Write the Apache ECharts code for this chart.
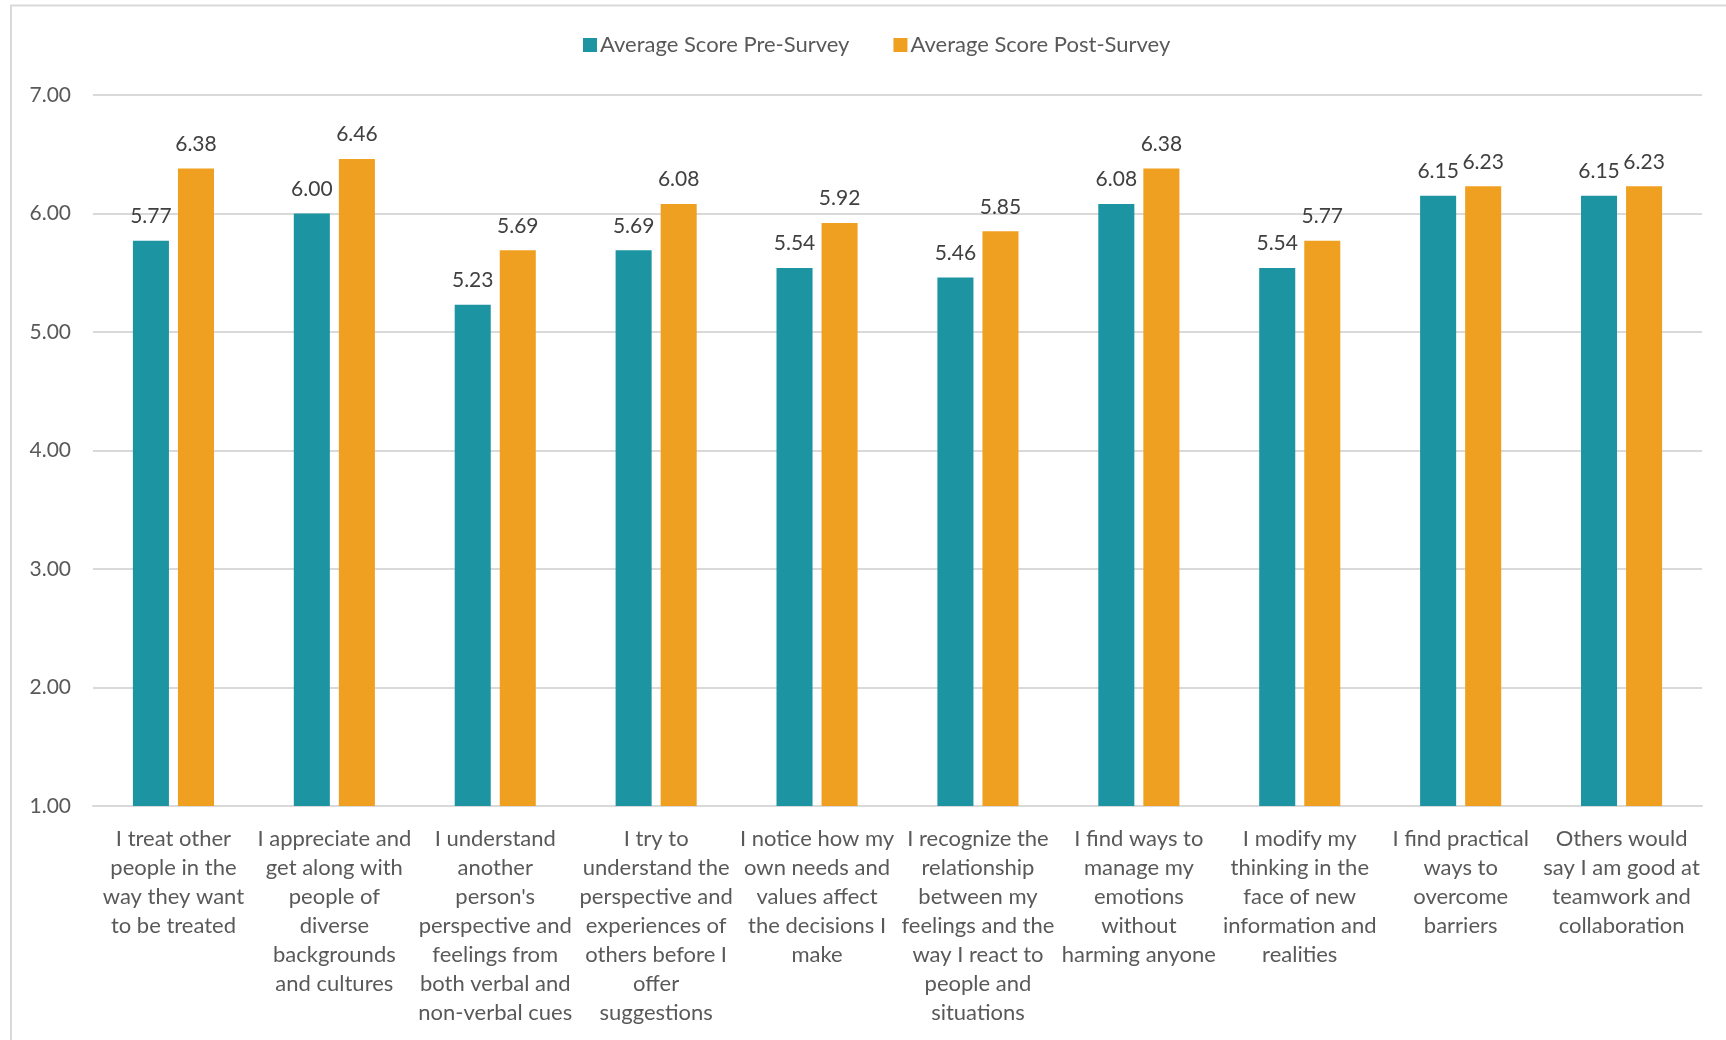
<!DOCTYPE html>
<html>
<head>
<meta charset="utf-8">
<title>Average Score Pre- and Post-Survey</title>
<script src="https://cdn.jsdelivr.net/npm/echarts@6/dist/echarts.min.js"></script>
<style>
  html, body { margin: 0; padding: 0; background: #ffffff; }
  #chart { width: 1726px; height: 1040px; }
</style>
</head>
<body>
<div id="chart"></div>
<script>
// Survey statements (x-axis categories, wrapped by hand)
const categories = [
  "I treat other\npeople in the\nway they want\nto be treated",
  "I appreciate and\nget along with\npeople of\ndiverse\nbackgrounds\nand cultures",
  "I understand\nanother\nperson's\nperspective and\nfeelings from\nboth verbal and\nnon-verbal cues",
  "I try to\nunderstand the\nperspective and\nexperiences of\nothers before I\noffer\nsuggestions",
  "I notice how my\nown needs and\nvalues affect\nthe decisions I\nmake",
  "I recognize the\nrelationship\nbetween my\nfeelings and the\nway I react to\npeople and\nsituations",
  "I find ways to\nmanage my\nemotions\nwithout\nharming anyone",
  "I modify my\nthinking in the\nface of new\ninformation and\nrealities",
  "I find practical\nways to\novercome\nbarriers",
  "Others would\nsay I am good at\nteamwork and\ncollaboration"
];

const seriesNames = ["Average Score Pre-Survey", "Average Score Post-Survey"];

// Average scores per statement
const preSurvey  = [5.77, 6.00, 5.23, 5.69, 5.54, 5.46, 6.08, 5.54, 6.15, 6.15];
const postSurvey = [6.38, 6.46, 5.69, 6.08, 5.92, 5.85, 6.38, 5.77, 6.23, 6.23];

// Value axis range and step
const yMin = 1, yMax = 7, yStep = 1;

const FONT = "Lato, 'Noto Sans', sans-serif";
const TEAL = "#1C94A2";
const ORANGE = "#F0A020";

const chart = echarts.init(document.getElementById("chart"), null, { renderer: "canvas" });

const labelStyle = {
  show: true,
  position: "top",
  distance: 14,
  color: "#404040",
  fontFamily: FONT,
  fontSize: 21,
  formatter: p => p.value.toFixed(2)
};

chart.setOption({
  animation: false,
  backgroundColor: "#ffffff",
  textStyle: { fontFamily: FONT },
  graphic: [
    {
      type: "polyline",
      silent: true,
      shape: { points: [[11, 1040], [11, 5.5], [1726, 5.5]] },
      style: { stroke: "#d9d9d9", lineWidth: 2, fill: null }
    }
  ],
  legend: {
    left: 578,
    top: 29,
    itemWidth: 14,
    itemHeight: 14,
    itemGap: 44,
    icon: "rect",
    textStyle: { color: "#595959", fontFamily: FONT, fontSize: 22, padding: [0, 0, 0, -2] },
    data: seriesNames
  },
  grid: {
    left: 93,
    right: 1726 - 1702,
    top: 95,
    bottom: 1040 - 806,
    containLabel: false
  },
  xAxis: {
    type: "category",
    data: categories,
    axisLine: { show: true, lineStyle: { color: "#d9d9d9", width: 2 } },
    axisTick: { show: false },
    axisLabel: {
      interval: 0,
      margin: 18,
      color: "#595959",
      fontFamily: FONT,
      fontSize: 22,
      lineHeight: 29,
      align: "center"
    }
  },
  yAxis: {
    type: "value",
    min: yMin,
    max: yMax,
    interval: yStep,
    axisLine: { show: false },
    axisTick: { show: false },
    splitLine: { show: true, lineStyle: { color: "#d9d9d9", width: 2 } },
    axisLabel: {
      margin: 22,
      color: "#595959",
      fontFamily: FONT,
      fontSize: 21,
      formatter: v => v.toFixed(2)
    }
  },
  series: [
    {
      name: seriesNames[0],
      type: "bar",
      data: preSurvey,
      barWidth: "22.4%",
      barGap: "25%",
      itemStyle: { color: TEAL },
      label: labelStyle
    },
    {
      name: seriesNames[1],
      type: "bar",
      data: postSurvey,
      barWidth: "22.4%",
      barGap: "25%",
      itemStyle: { color: ORANGE },
      label: labelStyle
    }
  ]
});
</script>
</body>
</html>
